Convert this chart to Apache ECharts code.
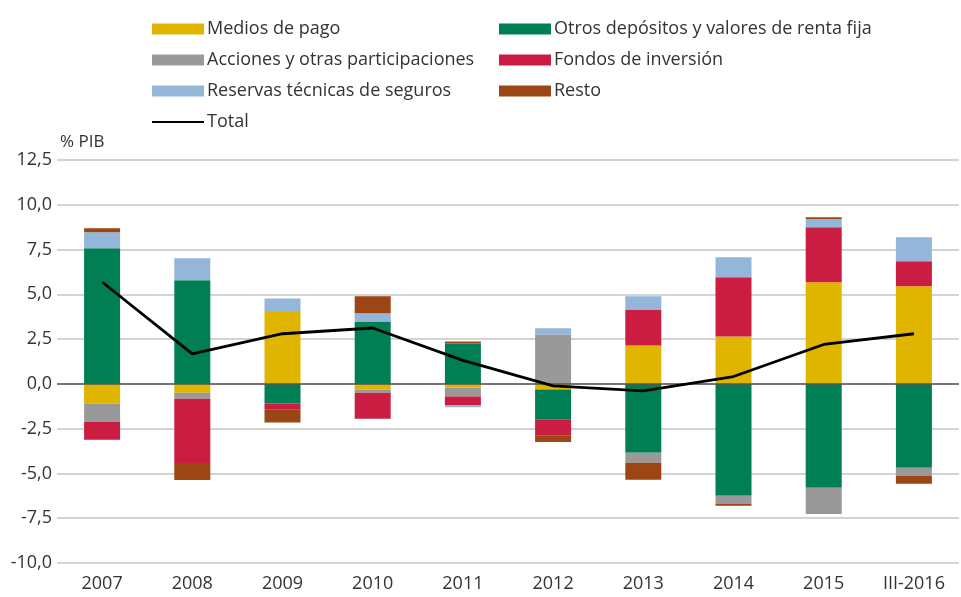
<!DOCTYPE html>
<html>
<head>
<meta charset="utf-8">
<script src="https://cdn.jsdelivr.net/npm/echarts@6/dist/echarts.min.js"></script>
<style>
  html, body { margin: 0; padding: 0; background: #fff; }
  #chart { width: 961px; height: 597px; }
</style>
</head>
<body>
<div id="chart"></div>
<script>
const categories = ['2007', '2008', '2009', '2010', '2011', '2012', '2013', '2014', '2015', 'III-2016'];

const mediosPago = [-1.10, -0.49, 4.01, -0.32, -0.20, -0.32, 2.15, 2.65, 5.67, 5.45];
const otrosDepositos = [7.57, 5.78, -1.10, 3.49, 2.26, -1.68, -3.84, -6.25, -5.80, -4.68];
const acciones = [-1.01, -0.34, 0, -0.17, -0.50, 2.76, -0.56, -0.45, -1.46, -0.45];
const fondos = [-1.01, -3.58, -0.35, -1.46, -0.50, -0.90, 2.01, 3.30, 3.08, 1.40];
const reservas = [0.90, 1.23, 0.76, 0.45, -0.11, 0.34, 0.73, 1.12, 0.45, 1.34];
const resto = [0.22, -0.95, -0.71, 0.95, 0.11, -0.34, -0.95, -0.11, 0.11, -0.45];
const total = [5.69, 1.68, 2.80, 3.12, 1.31, -0.11, -0.39, 0.41, 2.20, 2.80];

const FONT = 'Open Sans';
const TXT = '#333333';

function barSeries(name, data, color) {
  return {
    name: name,
    type: 'bar',
    stack: 'all',
    barWidth: 36,
    data: data,
    itemStyle: { color: color },
    emphasis: { disabled: true }
  };
}

function legendCol(left, items) {
  return {
    orient: 'vertical',
    left: left,
    top: 20,
    padding: 0,
    itemWidth: 52,
    itemHeight: 11,
    itemGap: 13,
    icon: 'rect',
    selectedMode: false,
    textStyle: { fontSize: 18, color: TXT, fontFamily: FONT, padding: [0, 0, 0, -2] },
    data: items
  };
}

const chart = echarts.init(document.getElementById('chart'));

chart.setOption({
  animation: false,
  textStyle: { fontFamily: FONT },
  grid: { left: 57, right: 2, top: 160, bottom: 34 },
  legend: [
    legendCol(151, [
      'Medios de pago',
      'Acciones y otras participaciones',
      'Reservas técnicas de seguros',
      { name: 'Total', icon: 'inherit', itemStyle: { opacity: 0 } }
    ]),
    legendCol(499, ['Otros depósitos y valores de renta fija', 'Fondos de inversión', 'Resto'])
  ],
  graphic: [
    {
      type: 'text',
      left: 60,
      top: 134,
      style: { text: '% PIB', fontSize: 17, fill: TXT, fontFamily: FONT }
    }
  ],
  xAxis: {
    type: 'category',
    data: categories,
    axisLine: { show: false },
    axisTick: { show: false },
    axisLabel: { fontSize: 18, color: TXT, margin: 12, fontFamily: FONT }
  },
  yAxis: {
    type: 'value',
    min: -10,
    max: 12.5,
    interval: 2.5,
    axisLine: { show: false },
    axisTick: { show: false },
    axisLabel: {
      fontSize: 18,
      color: TXT,
      margin: 5,
      fontFamily: FONT,
      formatter: function (v) { return v.toFixed(1).replace('.', ','); }
    },
    splitLine: { lineStyle: { color: '#c4c4c4', width: 1.5 } }
  },
  series: [
    barSeries('Medios de pago', mediosPago, '#e0b500'),
    barSeries('Otros depósitos y valores de renta fija', otrosDepositos, '#007f54'),
    barSeries('Acciones y otras participaciones', acciones, '#999999'),
    barSeries('Fondos de inversión', fondos, '#cb1c42'),
    barSeries('Reservas técnicas de seguros', reservas, '#93b6d9'),
    barSeries('Resto', resto, '#9c4616'),
    {
      name: 'Total',
      type: 'line',
      data: total,
      symbol: 'none',
      z: 5,
      lineStyle: { color: '#000', width: 2.8 },
      itemStyle: { color: '#000' },
      emphasis: { disabled: true },
      markLine: {
        silent: true,
        symbol: 'none',
        label: { show: false },
        lineStyle: { color: '#555555', width: 1.5, type: 'solid' },
        data: [{ yAxis: 0 }]
      }
    }
  ]
});
</script>
</body>
</html>
